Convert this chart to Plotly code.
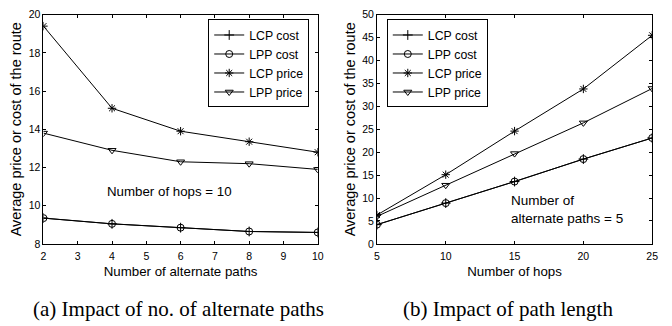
import plotly.graph_objects as go

# Panel (a): impact of number of alternate paths (hops = 10)
paths = [2, 4, 6, 8, 10]
a_lcp_cost = [9.35, 9.05, 8.85, 8.65, 8.6]
a_lpp_cost = [9.35, 9.05, 8.85, 8.65, 8.6]
a_lcp_price = [19.4, 15.1, 13.9, 13.35, 12.8]
a_lpp_price = [13.8, 12.9, 12.3, 12.2, 11.9]

# Panel (b): impact of path length (alternate paths = 5)
hops = [5, 10, 15, 20, 25]
b_lcp_cost = [4.2, 8.9, 13.6, 18.5, 23.1]
b_lpp_cost = [4.2, 8.9, 13.6, 18.5, 23.1]
b_lcp_price = [6.3, 15.1, 24.6, 33.8, 45.5]
b_lpp_price = [6.0, 12.8, 19.7, 26.4, 33.9]

names = ["LCP cost", "LPP cost", "LCP price", "LPP price"]
symbols = ["cross-thin-open", "circle-open", "asterisk-open", "triangle-down-open"]

W, H = 672, 326
fig = go.Figure()

def add_series(x, ys, xa, ya, leg):
    for name, sym, y in zip(names, symbols, ys):
        fig.add_trace(go.Scatter(
            x=x, y=y, name=name, mode="lines+markers",
            line=dict(color="black", width=1),
            marker=dict(symbol=sym, size=7, color="black",
                        line=dict(color="black", width=1)),
            xaxis=xa, yaxis=ya, legend=leg))

add_series(paths, [a_lcp_cost, a_lpp_cost, a_lcp_price, a_lpp_price], "x", "y", "legend")
add_series(hops, [b_lcp_cost, b_lpp_cost, b_lcp_price, b_lpp_price], "x2", "y2", "legend2")

ydom = [1 - 247 / H, 1 - 9 / H]
axis_common = dict(showgrid=False, zeroline=False, showline=True, linecolor="black",
                   linewidth=1, mirror="ticks", ticks="inside", ticklen=3,
                   tickcolor="black", tickfont=dict(size=10.5, color="black"))
xtitle_font = dict(size=13.3, color="black")
ytitle_font = dict(size=14.5, color="black")

fig.update_layout(
    width=W, height=H, margin=dict(l=0, r=0, t=0, b=0),
    paper_bgcolor="white", plot_bgcolor="white",
    font=dict(family="Liberation Sans, Arial, sans-serif", color="black"),
    xaxis=dict(domain=[41 / W, 319 / W], range=[2, 10], dtick=1, ticklabelstandoff=2,
               title=dict(text="Number of alternate paths", standoff=6, font=xtitle_font),
               **axis_common),
    yaxis=dict(domain=ydom, range=[8, 20], dtick=2, anchor="x",
               title=dict(text="Average price or cost of the route", standoff=3, font=ytitle_font),
               **axis_common),
    xaxis2=dict(domain=[379 / W, 658 / W], range=[5, 25], dtick=5, anchor="y2", ticklabelstandoff=2,
                title=dict(text="Number of hops", standoff=6, font=xtitle_font),
                **axis_common),
    yaxis2=dict(domain=ydom, range=[0, 50], dtick=5, anchor="x2",
                title=dict(text="Average price or cost of the route", standoff=3, font=ytitle_font),
                **axis_common),
    legend=dict(x=208 / W, y=1 - 14 / H, xanchor="left", yanchor="top",
                bordercolor="black", borderwidth=1, bgcolor="white",
                font=dict(size=12.3, color="black"), tracegroupgap=0),
    legend2=dict(x=389 / W, y=1 - 14 / H, xanchor="left", yanchor="top",
                 bordercolor="black", borderwidth=1, bgcolor="white",
                 font=dict(size=12.3, color="black"), tracegroupgap=0),
    showlegend=True,
)

fig.add_annotation(x=168.5 / W, y=1 - 193 / H, xref="paper", yref="paper",
                   text="Number of hops = 10", showarrow=False,
                   xanchor="center", yanchor="middle",
                   font=dict(size=13.3, color="black"))
fig.add_annotation(x=513 / W, y=1 - 211 / H, xref="paper", yref="paper",
                   text="Number of<br>alternate paths = 5", align="left",
                   xanchor="left", yanchor="middle",
                   showarrow=False, font=dict(size=13.5, color="black"))

cap_font = dict(family="Liberation Serif, Times New Roman, serif", size=21, color="black")
fig.add_annotation(x=178 / W, y=1 - 315 / H, xref="paper", yref="paper",
                   text="(a) Impact of no. of alternate paths", showarrow=False,
                   xanchor="center", yanchor="middle", font=cap_font)
fig.add_annotation(x=512 / W, y=1 - 315 / H, xref="paper", yref="paper",
                   text="(b) Impact of path length", showarrow=False,
                   xanchor="center", yanchor="middle", font=cap_font)

fig.write_html("out.html")
